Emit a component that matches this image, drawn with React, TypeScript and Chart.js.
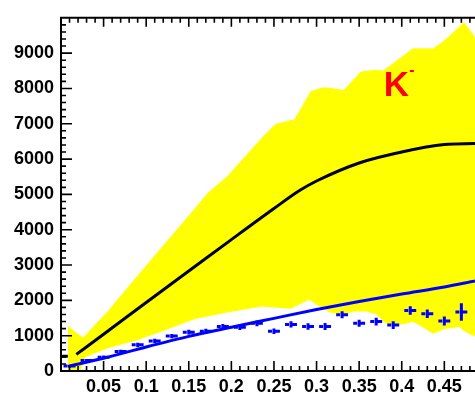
import React, { useEffect, useRef } from "react";
import { Chart, registerables } from "chart.js";

Chart.register(...registerables);

// ---- axis ticks ----
const xTickValues = [0.05, 0.1, 0.15, 0.2, 0.25, 0.3, 0.35, 0.4, 0.45];
const yTickValues = [0, 1000, 2000, 3000, 4000, 5000, 6000, 7000, 8000, 9000];

// ---- yellow band (upper / lower edge) ----
const bandX = [0.008, 0.022, 0.026, 0.028, 0.055, 0.09, 0.12, 0.13, 0.156, 0.1725, 0.196, 0.235, 0.252, 0.27, 0.274, 0.291, 0.293, 0.309, 0.315, 0.326, 0.332, 0.343, 0.352, 0.358, 0.37, 0.378, 0.382, 0.397, 0.413, 0.42, 0.437, 0.448, 0.452, 0.467, 0.473, 0.479, 0.486];
const bandUpper = [1260, 1000, 930, 990, 1680, 2690, 3540, 3820, 4560, 5030, 5520, 6570, 6980, 7090, 7100, 7810, 7910, 8020, 8000, 7970, 7940, 8230, 8460, 8480, 8515, 8490, 8560, 8830, 9120, 9120, 9120, 9310, 9390, 9720, 9860, 9670, 9430];
const bandLower = [0, 0, 250, 400, 660, 890, 1150, 1240, 1480, 1560, 1675, 1837, 1810, 1780, 1830, 2030, 2000, 1760, 1675, 1620, 1600, 1700, 1700, 1700, 1620, 1430, 1350, 1320, 1400, 1320, 1070, 1180, 1210, 1260, 1150, 1070, 990];

// ---- black mean curve ----
const blackStartX = [0.001, 0.008];
const blackStartY = [420, 420];
const blackX = [0.018, 0.05, 0.1, 0.15, 0.2, 0.25, 0.28, 0.3, 0.35, 0.4, 0.45, 0.486];
const blackY = [470, 1040, 1940, 2830, 3720, 4600, 5110, 5380, 5890, 6200, 6410, 6440];

// ---- blue solid curve ----
const blueX = [0.008, 0.05, 0.1, 0.15, 0.2, 0.25, 0.3, 0.35, 0.4, 0.45, 0.486];
const blueY = [130, 360, 680, 980, 1240, 1490, 1740, 1970, 2180, 2380, 2550];

// ---- blue data points with error bars ----
const pointX = [0.01, 0.03, 0.05, 0.07, 0.09, 0.11, 0.13, 0.15, 0.17, 0.19, 0.21, 0.23, 0.25, 0.27, 0.29, 0.31, 0.33, 0.35, 0.37, 0.39, 0.41, 0.43, 0.45, 0.47];
const pointY = [140, 300, 390, 550, 740, 850, 990, 1100, 1125, 1260, 1240, 1350, 1125, 1320, 1260, 1260, 1590, 1350, 1400, 1300, 1710, 1620, 1415, 1670];
const pointErr = [30, 40, 50, 50, 60, 60, 60, 70, 70, 70, 80, 80, 80, 90, 90, 100, 100, 100, 110, 110, 120, 120, 130, 250];
const pointXErr = 0.007;

const labelMain = "K";
const labelSup = "-";

const FONT = "'Liberation Sans', Arial, Helvetica, sans-serif";
const BLUE = "#0000ff";
const YELLOW = "#ffff00";

const toXY = (xs: number[], ys: number[]) => xs.map((x, i) => ({ x, y: ys[i] }));

const overlayPlugin = {
  id: "overlay",
  afterDatasetsDraw(chart: any) {
    const { ctx, scales } = chart;
    const xs = scales.x;
    const ys = scales.y;
    ctx.save();
    ctx.strokeStyle = BLUE;
    ctx.lineWidth = 3;
    ctx.lineCap = "butt";
    for (let i = 0; i < pointX.length; i++) {
      const cx = xs.getPixelForValue(pointX[i]);
      const cy = ys.getPixelForValue(pointY[i]);
      const xl = xs.getPixelForValue(pointX[i] - pointXErr);
      const xr = xs.getPixelForValue(pointX[i] + pointXErr);
      const yt = ys.getPixelForValue(pointY[i] + pointErr[i]);
      const yb = ys.getPixelForValue(pointY[i] - pointErr[i]);
      ctx.beginPath();
      ctx.moveTo(xl, cy);
      ctx.lineTo(cx - 2, cy);
      ctx.moveTo(cx, cy);
      ctx.lineTo(xr, cy);
      ctx.moveTo(cx, yt);
      ctx.lineTo(cx, yb);
      ctx.stroke();
    }
    ctx.restore();
  },
  afterDraw(chart: any) {
    const { ctx, chartArea: a, scales } = chart;
    const xs = scales.x;
    const ys = scales.y;
    ctx.save();
    ctx.strokeStyle = "#000";
    ctx.lineWidth = 2;
    // frame
    ctx.beginPath();
    ctx.moveTo(a.left, a.top);
    ctx.lineTo(a.left, a.bottom);
    ctx.moveTo(a.left - 1, a.bottom);
    ctx.lineTo(a.right, a.bottom);
    ctx.moveTo(a.left - 1, a.top);
    ctx.lineTo(a.right, a.top);
    ctx.stroke();
    // ticks
    ctx.lineWidth = 1.6;
    ctx.beginPath();
    for (let k = 1; k <= 48; k++) {
      const v = k / 100;
      const px = xs.getPixelForValue(v);
      if (px > a.right) break;
      const major = k % 5 === 0;
      ctx.moveTo(px, a.bottom);
      ctx.lineTo(px, a.bottom - (major ? 10 : 5));
      ctx.moveTo(px, a.top);
      ctx.lineTo(px, a.top + (major ? 9 : 5));
    }
    for (let v = 200; v < 10000; v += 200) {
      const py = ys.getPixelForValue(v);
      const major = v % 1000 === 0;
      ctx.moveTo(a.left, py);
      ctx.lineTo(a.left + (major ? 11 : 5), py);
    }
    ctx.stroke();
    // label
    ctx.fillStyle = "#ff0000";
    ctx.font = `bold 35px ${FONT}`;
    ctx.textBaseline = "alphabetic";
    ctx.textAlign = "left";
    const lx = xs.getPixelForValue(0.379);
    const ly = ys.getPixelForValue(7790);
    ctx.fillText(labelMain, lx, ly);
    const kw = ctx.measureText(labelMain).width;
    ctx.font = `bold 16px ${FONT}`;
    ctx.fillText(labelSup, lx + kw, ly - 21);
    ctx.restore();
  },
};

export default function App() {
  const ref = useRef<HTMLCanvasElement | null>(null);
  useEffect(() => {
    if (!ref.current) return;
    const chart = new Chart(ref.current, {
      type: "line",
      data: {
        datasets: [
          {
            data: toXY(blackStartX, blackStartY),
            borderColor: "#000",
            borderWidth: 3,
            pointRadius: 0,
            fill: false,
            order: 0,
          },
          {
            data: toXY(blackX, blackY),
            borderColor: "#000",
            borderWidth: 3,
            pointRadius: 0,
            fill: false,
            cubicInterpolationMode: "monotone",
            order: 0,
          },
          {
            data: toXY(blueX, blueY),
            borderColor: BLUE,
            borderWidth: 3,
            pointRadius: 0,
            fill: false,
            cubicInterpolationMode: "monotone",
            order: 1,
          },
          {
            data: toXY(bandX, bandUpper),
            borderColor: YELLOW,
            backgroundColor: YELLOW,
            borderWidth: 1,
            pointRadius: 0,
            fill: "+1",
            order: 5,
          },
          {
            data: toXY(bandX, bandLower),
            borderColor: YELLOW,
            borderWidth: 1,
            pointRadius: 0,
            fill: false,
            order: 6,
          },
        ],
      },
      options: {
        responsive: false,
        animation: false,
        events: [],
        layout: { padding: { top: 7, left: 0, right: 0, bottom: 0 } },
        plugins: {
          legend: { display: false },
          tooltip: { enabled: false },
        },
        scales: {
          x: {
            type: "linear",
            min: 0,
            max: 0.486,
            grid: { display: false, drawTicks: false },
            border: { display: false },
            afterBuildTicks: (s: any) => {
              s.ticks = xTickValues.map((v) => ({ value: v }));
            },
            afterFit: (s: any) => {
              s.height = 23;
            },
            ticks: {
              autoSkip: false,
              maxRotation: 0,
              padding: 5,
              color: "#000",
              font: { family: FONT, size: 18, weight: "bold" },
              callback: (v: any) => String(+Number(v).toFixed(2)),
            },
          },
          y: {
            type: "linear",
            min: 0,
            max: 10000,
            grid: { display: false, drawTicks: false },
            border: { display: false },
            afterBuildTicks: (s: any) => {
              s.ticks = yTickValues.map((v) => ({ value: v }));
            },
            afterFit: (s: any) => {
              s.width = 61;
            },
            ticks: {
              autoSkip: false,
              padding: 7,
              color: "#000",
              font: { family: FONT, size: 18, weight: "bold" },
              callback: (v: any) => String(v),
            },
          },
        },
      },
      plugins: [overlayPlugin],
    } as any);
    return () => chart.destroy();
  }, []);
  return (
    <div style={{ position: "fixed", left: 0, top: 0, width: 475, height: 394, background: "#fff" }}>
      <canvas ref={ref} width={475} height={394} style={{ display: "block" }} />
    </div>
  );
}
